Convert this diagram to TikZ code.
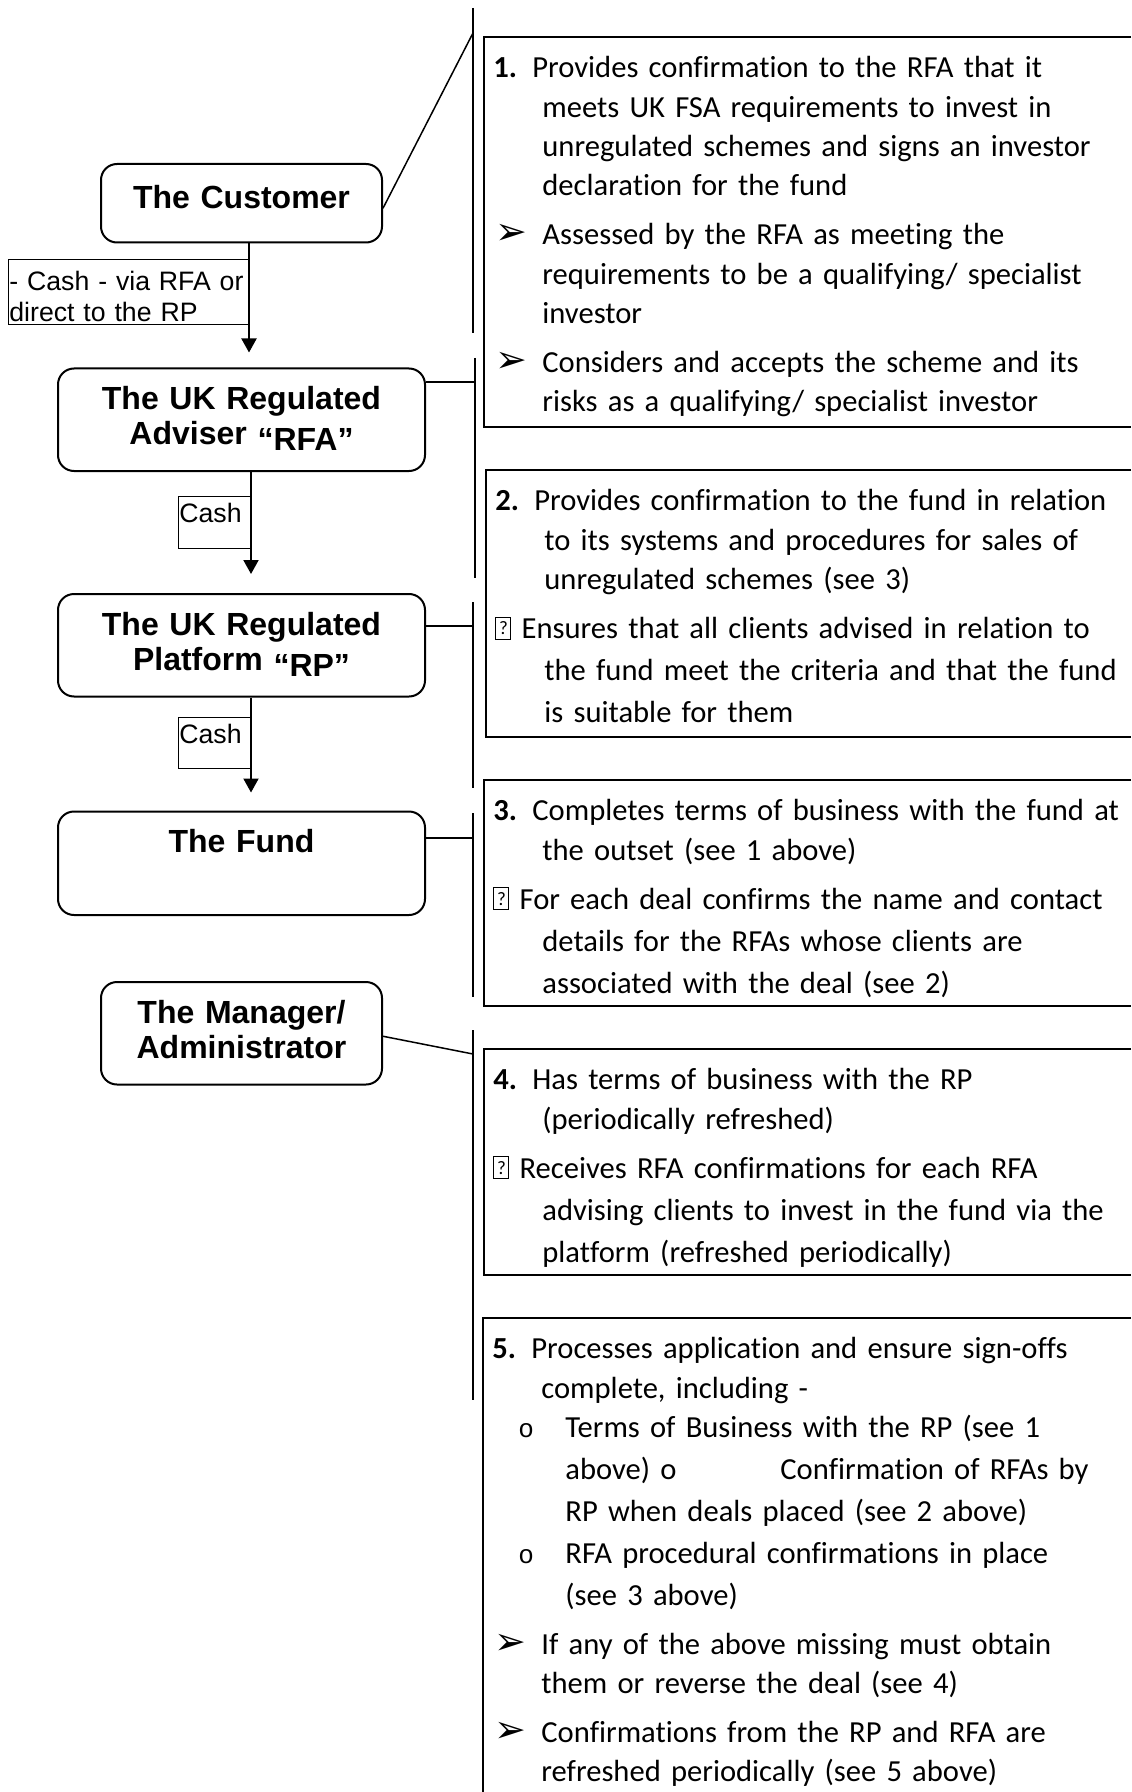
\documentclass[tikz,border=0pt]{standalone}
\usepackage{fontspec}
\setmainfont{Carlito}[Ligatures=NoCommon]
\newfontfamily\arial{Liberation Sans}
\newfontfamily\dingfont{DejaVu Sans}
\newfontfamily\courier{Liberation Mono}
\usetikzlibrary{arrows.meta, positioning, calc}
\newcommand{\Num}[1]{\textbf{#1.}}
\newcommand{\Hang}{\hspace*{24.5pt}}
\newcommand{\Bullet}{\makebox[24.5pt][l]{\hspace{1pt}{\dingfont\fontsize{19}{19}\selectfont ➢}}}
\newcommand{\Sub}{\hspace*{13pt}\makebox[23.5pt][l]{\courier\fontsize{13}{13}\selectfont o}}
\newcommand{\Deep}{\hspace*{36.5pt}}
\newcommand{\Unknown}{{\setlength{\fboxsep}{0pt}\setlength{\fboxrule}{0.5pt}%
  \fbox{\rule{0pt}{10.5pt}\makebox[7pt]{\raisebox{2pt}{\fontsize{9.5}{9.5}\selectfont ?}}}}}
\newcommand{\Gap}{4.85pt}
\newcommand{\Wide}{1.3pt}
\tikzset{
    party/.style={draw, rounded corners=8pt, line width=1pt, inner xsep=0pt, inner ysep=0pt,
      align=center, text height=20.5pt, text depth=30.75pt,
      font=\arial\bfseries\fontsize{16}{17.5}\selectfont},
    cashlbl/.style={draw, line width=0.6pt, inner xsep=0.5pt, inner ysep=0pt, align=left,
      text width=35pt, text height=13pt, text depth=12.75pt,
      font=\arial\fontsize{13.33}{15.5}\selectfont},
    note/.style={anchor=north west, inner xsep=4.5pt, inner ysep=0pt, text width=330pt,
      align=left, text height=20.25pt, font=\fontsize{15.3}{19.65}\selectfont},
    noteframe/.style={line width=1.3pt},
    link/.style={line width=0.75pt},
    flow/.style={line width=1pt, -{Triangle[length=7pt,width=7.5pt]}},
}
\begin{document}
\begin{tikzpicture}[x=0.5pt, y=-0.5pt]
    \useasboundingbox (0,0) rectangle (1131,1792);
    \coordinate (edge) at (1131,0);
    \coordinate (floor) at (0,1792);

    \node[party, anchor=north, text width=140.5pt, text height=22.25pt, text depth=17pt] (cust) at (241.5,163) {The Customer};
    \node[party, below=62pt of cust, text width=183.5pt] (rfa) {The UK Regulated\\Adviser \raisebox{-3pt}{“RFA”}};
    \node[party, below=60.5pt of rfa, text width=183.5pt] (rp) {The UK Regulated\\Platform \raisebox{-3pt}{“RP”}};
    \node[party, below=56.5pt of rp, text width=183.5pt, text depth=31.25pt] (fund) {The Fund};
    \node[party, below=32.5pt of fund, text width=140.5pt] (mgr) {The Manager/\\Administrator};

    \draw[flow, shorten >=7.5pt] ([xshift=3.75pt]cust.south) -- node[cashlbl, pos=0.121, anchor=north east,
      text width=119pt, text height=15.5pt, text depth=17pt] (cash1) {- Cash - via RFA or\\direct to the RP} ([xshift=3.75pt]rfa.north);
    \draw[flow, shorten >=9.5pt] ([xshift=4.75pt]rfa.south) -- node[cashlbl, pos=0.2, anchor=north east] (cash2) {Cash} ([xshift=4.75pt]rp.north);
    \draw[flow, shorten >=9pt] ([xshift=4.75pt]rp.south) -- node[cashlbl, pos=0.17, anchor=north east] (cash3) {Cash} ([xshift=4.75pt]fund.north);

    \node[note, text depth=174.25pt] (n1) at (484,37) {%
      \Num{1} Provides confirmation to the RFA that it\\
      \Hang meets UK FSA requirements to invest in\\
      \Hang unregulated schemes and signs an investor\\
      \Hang declaration for the fund\\[\Gap]
      \Bullet Assessed by the RFA as meeting the\\
      \Hang requirements to be a qualifying/ specialist\\
      \Hang investor\\[\Gap]
      \Bullet Considers and accepts the scheme and its\\
      \Hang risks as a qualifying/ specialist investor};
    \node[note, text depth=112.75pt] (n2) at (486,470) {%
      \Num{2} Provides confirmation to the fund in relation\\
      \Hang to its systems and procedures for sales of\\
      \Hang unregulated schemes (see 3)\\[\Gap]
      \Unknown{} Ensures that all clients advised in relation to\\[\Wide]
      \Hang the fund meet the criteria and that the fund\\[\Wide]
      \Hang is suitable for them};
    \node[note, text depth=92.25pt] (n3) at (484,780) {%
      \Num{3} Completes terms of business with the fund at\\
      \Hang the outset (see 1 above)\\[\Gap]
      \Unknown{} For each deal confirms the name and contact\\[\Wide]
      \Hang details for the RFAs whose clients are\\[\Wide]
      \Hang associated with the deal (see 2)};
    \node[note, text depth=92.25pt] (n4) at (484,1049) {%
      \Num{4} Has terms of business with the RP\\
      \Hang (periodically refreshed)\\[\Gap]
      \Unknown{} Receives RFA confirmations for each RFA\\[\Wide]
      \Hang advising clients to invest in the fund via the\\[\Wide]
      \Hang platform (refreshed periodically)};
    \node[note] (n5) at (483,1318) {%
      \Num{5} Processes application and ensure sign-offs\\
      \Hang complete, including -\\
      \Sub Terms of Business with the RP (see 1\\[\Wide]
      \Deep\makebox[107.5pt][l]{above) o}Confirmation of RFAs by\\[\Wide]
      \Deep RP when deals placed (see 2 above)\\[\Wide]
      \Sub RFA procedural confirmations in place\\[\Wide]
      \Deep (see 3 above)\\[\Gap]
      \Bullet If any of the above missing must obtain\\
      \Hang them or reverse the deal (see 4)\\[\Gap]
      \Bullet Confirmations from the RP and RFA are\\
      \Hang refreshed periodically (see 5 above)};

    \draw[noteframe] (n1.north west -| edge) -- (n1.north west) -- (n1.south west) -- (n1.south west -| edge);
    \draw[noteframe] (n2.north west -| edge) -- (n2.north west) -- (n2.south west) -- (n2.south west -| edge);
    \draw[noteframe] (n3.north west -| edge) -- (n3.north west) -- (n3.south west) -- (n3.south west -| edge);
    \draw[noteframe] (n4.north west -| edge) -- (n4.north west) -- (n4.south west) -- (n4.south west -| edge);
    \draw[noteframe] (n5.north west -| edge) -- (n5.north west) -- (n5.north west |- floor);

    \coordinate (k1a) at (473,8);
    \coordinate (k1b) at (473,333);
    \coordinate (k1) at (473,33);
    \coordinate (k2a) at (475,358);
    \coordinate (k2b) at (475,578);
    \coordinate (k2) at (475,382);
    \coordinate (k3a) at (473,602);
    \coordinate (k3b) at (473,788);
    \coordinate (k3) at (473,626);
    \coordinate (k4a) at (473,813);
    \coordinate (k4b) at (473,997);
    \coordinate (k4) at (473,838);
    \coordinate (k5a) at (473,1030);
    \coordinate (k5b) at (473,1400);
    \coordinate (k5) at (473,1054);

    \draw[link] (k1a) -- (k1b);
    \draw[link] (k2a) -- (k2b);
    \draw[link] (k3a) -- (k3b);
    \draw[link] (k4a) -- (k4b);
    \draw[link] (k5a) -- (k5b);
    \draw[link] ([yshift=-2.5pt]cust.east) -- (k1);
    \draw[link] (rfa.east |- k2) -- (k2);
    \draw[link] (rp.east |- k3) -- (k3);
    \draw[link] (fund.east |- k4) -- (k4);
    \draw[link] ([yshift=-1.5pt]mgr.east) -- (k5);
\end{tikzpicture}
\end{document}
